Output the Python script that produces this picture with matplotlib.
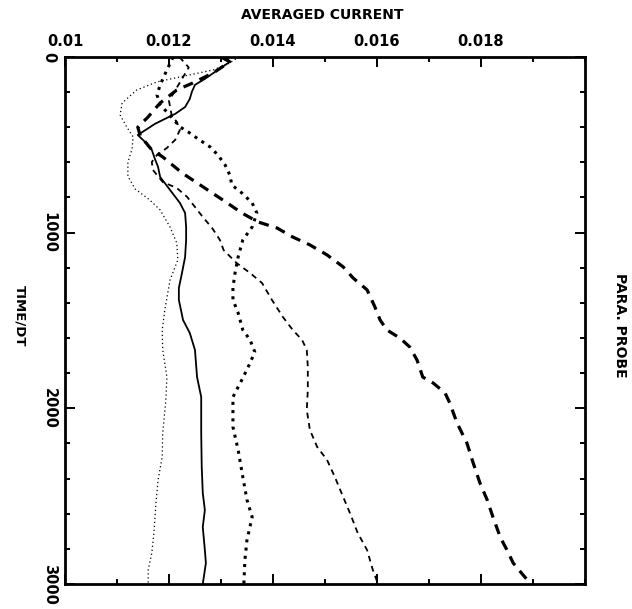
import matplotlib
matplotlib.use("Agg")
import matplotlib.pyplot as plt
from matplotlib.ticker import FixedLocator, MultipleLocator

plt.rcParams['font.family'] = ['DejaVu Sans']
plt.rcParams['font.weight'] = 'bold'

# Running average of the probe current vs. time step, five runs
t_thin_dot = [0, 40, 74, 102, 142, 188, 262, 330, 400, 455, 524, 600, 680, 752, 814,
              871, 968, 1059, 1156, 1270, 1440, 1554, 1668, 1822, 1953, 2141, 2277,
              2408, 2539, 2710, 2824, 2920, 3000]
cur_thin_dot = [0.01335, 0.01313, 0.01285, 0.0124, 0.01177, 0.01138, 0.0111, 0.01106,
                0.01119, 0.01131, 0.01129, 0.01121, 0.01121, 0.01135, 0.01163, 0.01183,
                0.01202, 0.01215, 0.01217, 0.01202, 0.01192, 0.01187, 0.01188, 0.01196,
                0.01194, 0.01188, 0.01187, 0.01179, 0.01175, 0.01171, 0.01167, 0.0116,
                0.0116]

t_solid = [0, 28, 74, 125, 159, 199, 239, 285, 324, 353, 381, 410, 444, 484, 529, 581,
           626, 683, 757, 831, 888, 968, 1042, 1139, 1230, 1315, 1383, 1497, 1571, 1668,
           1822, 1936, 2141, 2334, 2482, 2579, 2676, 2807, 2881, 3000]
cur_solid = [0.0131, 0.01317, 0.01294, 0.01269, 0.0125, 0.01244, 0.0124, 0.01231,
             0.01212, 0.01192, 0.01173, 0.01158, 0.0114, 0.01154, 0.01167, 0.01173,
             0.01179, 0.01183, 0.01202, 0.01221, 0.01231, 0.01233, 0.01233, 0.01231,
             0.01225, 0.01219, 0.01219, 0.01227, 0.0124, 0.0125, 0.01254, 0.01262,
             0.01262, 0.01263, 0.01265, 0.01269, 0.01265, 0.01269, 0.01271, 0.01265]

t_thick_dot = [0, 74, 159, 216, 273, 313, 353, 398, 427, 467, 512, 558, 615, 672, 729,
               774, 831, 888, 968, 1042, 1139, 1230, 1315, 1383, 1457, 1554, 1611, 1679,
               1742, 1839, 1936, 2106, 2237, 2391, 2522, 2619, 2750, 2864, 3000]
cur_thick_dot = [0.01208, 0.01196, 0.01183, 0.01177, 0.01183, 0.01196, 0.01208, 0.01221,
                 0.01237, 0.01256, 0.01279, 0.01294, 0.01308, 0.01317, 0.01321, 0.0134,
                 0.0136, 0.01369, 0.0136, 0.01342, 0.01333, 0.01327, 0.01323, 0.01323,
                 0.01333, 0.01342, 0.01356, 0.01365, 0.01356, 0.0134, 0.01323, 0.01323,
                 0.01333, 0.01342, 0.0135, 0.0136, 0.0135, 0.01346, 0.01344]

t_thin_dash = [0, 60, 150, 250, 330, 370, 416, 472, 518, 558, 598, 643, 712, 746, 797,
               854, 911, 974, 1042, 1099, 1173, 1230, 1287, 1383, 1480, 1554, 1611, 1668,
               1765, 1896, 2010, 2123, 2220, 2294, 2391, 2505, 2596, 2710, 2807, 2920,
               3000]
cur_thin_dash = [0.0122, 0.01238, 0.0122, 0.012, 0.01205, 0.01215, 0.01221, 0.01212,
                 0.01196, 0.01177, 0.01167, 0.01169, 0.01188, 0.01215, 0.01235, 0.0125,
                 0.01265, 0.01283, 0.01298, 0.01305, 0.0133, 0.01356, 0.01379, 0.01398,
                 0.01419, 0.01438, 0.01456, 0.01465, 0.01467, 0.01467, 0.01465, 0.01471,
                 0.01485, 0.01504, 0.01519, 0.01535, 0.01548, 0.01563, 0.01581, 0.01592,
                 0.01602]

t_thick_dash = [0, 28, 91, 148, 188, 262, 341, 400, 450, 529, 569, 660, 717, 774, 831,
                888, 939, 974, 1025, 1070, 1127, 1195, 1258, 1326, 1423, 1497, 1554,
                1600, 1651, 1725, 1822, 1856, 1913, 1970, 2084, 2198, 2311, 2425, 2522,
                2619, 2733, 2807, 2881, 2949, 3000]
cur_thick_dash = [0.0130, 0.01317, 0.01285, 0.01246, 0.01215, 0.01183, 0.0116, 0.0114,
                  0.01145, 0.01167, 0.01188, 0.01225, 0.01254, 0.01283, 0.01312, 0.0134,
                  0.01371, 0.01408, 0.01438, 0.01471, 0.01504, 0.01535, 0.01554, 0.01581,
                  0.01596, 0.01606, 0.01619, 0.01644, 0.01663, 0.01677, 0.01688, 0.01708,
                  0.01731, 0.0174, 0.01754, 0.01773, 0.01785, 0.01798, 0.01812, 0.01823,
                  0.01837, 0.0185, 0.01862, 0.01881, 0.01896]

x_ticks = [0.010, 0.012, 0.014, 0.016, 0.018]
x_tick_labels = ['0.01', '0.012', '0.014', '0.016', '0.018']
y_ticks = [0, 1000, 2000, 3000]
y_tick_labels = ['0', '1000', '2000', '3000']

fig = plt.figure(figsize=(6.32, 6.09), dpi=100)
ax = fig.add_axes([0.1028, 0.0411, 0.8228, 0.8654])

ax.plot(cur_thin_dot, t_thin_dot, color='black', lw=0.9, linestyle=(0, (1, 2.2)))
ax.plot(cur_solid, t_solid, color='black', lw=1.3, linestyle='-')
ax.plot(cur_thick_dot, t_thick_dot, color='black', lw=2.2, linestyle=(0, (1, 1.7)))
ax.plot(cur_thin_dash, t_thin_dash, color='black', lw=1.3, linestyle=(0, (3.2, 2.6)))
ax.plot(cur_thick_dash, t_thick_dash, color='black', lw=2.3, linestyle=(0, (3.2, 2.3)))

ax.set_xlim(0.010, 0.020)
ax.set_ylim(3000, 0)

ax.xaxis.set_major_locator(FixedLocator(x_ticks))
ax.xaxis.set_minor_locator(MultipleLocator(0.001))
ax.set_xticklabels(x_tick_labels)
ax.yaxis.set_major_locator(FixedLocator(y_ticks))
ax.yaxis.set_minor_locator(MultipleLocator(200))
ax.set_yticklabels(y_tick_labels)

ax.tick_params(which='both', direction='in', top=True, bottom=True, left=True, right=True,
               labeltop=True, labelbottom=False, labelleft=True, labelright=False,
               width=1.4, color='black')
ax.tick_params(which='major', length=7)
ax.tick_params(which='minor', length=3.5)
ax.tick_params(axis='x', labelsize=10.5, pad=6)
ax.tick_params(axis='y', labelsize=10.5, pad=6, labelrotation=-90)
for lab in ax.get_yticklabels():
    lab.set_verticalalignment('center')
for lab in ax.get_xticklabels() + ax.get_yticklabels():
    lab.set_fontweight('bold')

for sp in ax.spines.values():
    sp.set_linewidth(2.0)

fig.text(322 / 632, 1 - 15 / 609, 'AVERAGED CURRENT', ha='center', va='center',
         fontsize=10, fontweight='bold')
fig.text(20 / 632, 1 - 316 / 609, 'TIME/DT', ha='center', va='center',
         rotation=-90, fontsize=9.5, fontweight='bold')
fig.text(620 / 632, 1 - 325 / 609, 'PARA. PROBE', ha='center', va='center',
         rotation=-90, fontsize=10, fontweight='bold')

fig.savefig('out.png', dpi=100)
